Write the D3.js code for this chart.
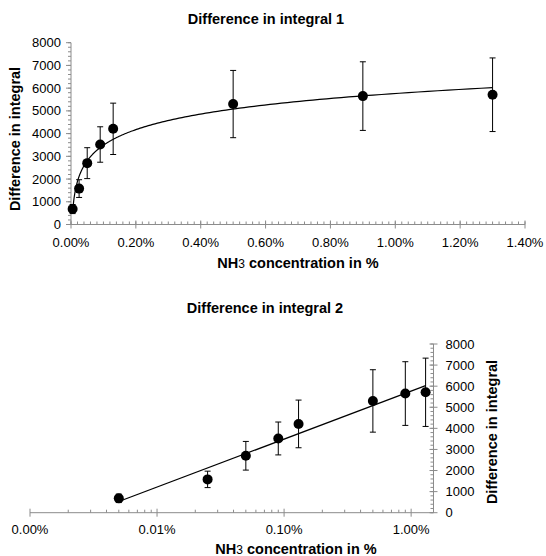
<!DOCTYPE html>
<html>
<head>
<meta charset="utf-8">
<script src="https://cdn.jsdelivr.net/npm/d3@7"></script>
<style>
  body { margin: 0; background: #fff; }
  text { font-family: "Liberation Sans", Arial, sans-serif; fill: #000; }
</style>
</head>
<body>
<div id="chart"></div>
<script>
// NH3 concentration (fraction, shown as %)
var conc = [0.00005, 0.00025, 0.0005, 0.0009, 0.0013, 0.005, 0.009, 0.013];
// difference in integral and its error
var diff = [680, 1580, 2700, 3520, 4210, 5300, 5650, 5710];
var errs = [200, 390, 680, 780, 1130, 1480, 1510, 1620];
var yTicks = [0, 1000, 2000, 3000, 4000, 5000, 6000, 7000, 8000];
var linTicks = [0, 0.002, 0.004, 0.006, 0.008, 0.010, 0.012, 0.014];
var logTicks = [0.00001, 0.0001, 0.001, 0.01];

var W = 546, H = 556;
var axisColor = "#8c8c8c";
var pct = d3.format(".2%");

var svg = d3.select("#chart").append("svg")
    .attr("width", W)
    .attr("height", H);

// soft edge on the markers
svg.append("defs").append("filter")
    .attr("id", "soft")
    .append("feGaussianBlur")
    .attr("stdDeviation", 0.7);

// logarithmic trendline y = a*ln(x) + b, least squares like the spreadsheet
var lx = conc.map(function(d) { return Math.log(d); });
var mx = d3.mean(lx), my = d3.mean(diff);
var sxy = d3.sum(lx, function(d, i) { return (d - mx) * (diff[i] - my); });
var sxx = d3.sum(lx, function(d) { return (d - mx) * (d - mx); });
var slope = sxy / sxx, icpt = my - slope * mx;
function trend(x) { return slope * Math.log(x) + icpt; }

function drawPoints(g, x, y) {
    var bars = g.selectAll(".err").data(conc).enter().append("g");
    bars.append("line")
        .attr("x1", function(d) { return x(d); })
        .attr("x2", function(d) { return x(d); })
        .attr("y1", function(d, i) { return y(diff[i] - errs[i]); })
        .attr("y2", function(d, i) { return y(diff[i] + errs[i]); })
        .attr("stroke", "#000").attr("stroke-width", 1);
    [-1, 1].forEach(function(s) {
        bars.append("line")
            .attr("x1", function(d) { return x(d) - 3; })
            .attr("x2", function(d) { return x(d) + 3; })
            .attr("y1", function(d, i) { return y(diff[i] + s * errs[i]); })
            .attr("y2", function(d, i) { return y(diff[i] + s * errs[i]); })
            .attr("stroke", "#000").attr("stroke-width", 1);
    });
    g.selectAll(".dot").data(conc).enter().append("circle")
        .attr("cx", function(d) { return x(d); })
        .attr("cy", function(d, i) { return y(diff[i]); })
        .attr("r", 5)
        .attr("fill", "#000")
        .attr("filter", "url(#soft)");
}

function drawTrend(g, x, y, xs) {
    var line = d3.line()
        .x(function(d) { return x(d); })
        .y(function(d) { return y(trend(d)); });
    g.append("path")
        .datum(xs)
        .attr("d", line)
        .attr("fill", "none")
        .attr("stroke", "#000")
        .attr("stroke-width", 1.2);
}

function xTitle(g, cx, by) {
    var t = g.append("text")
        .attr("x", cx).attr("y", by)
        .attr("text-anchor", "middle")
        .style("font-size", "14.5px")
        .style("font-weight", "bold");
    t.append("tspan").text("NH");
    t.append("tspan").text("3").style("font-weight", "normal").style("font-size", "12px");
    t.append("tspan").text(" concentration in %");
}

// ---------- chart 1: linear x ----------
var g1 = svg.append("g");
var x1 = d3.scaleLinear().domain([0, 0.014]).range([71, 525]);
var y1 = d3.scaleLinear().domain([0, 8000]).range([224.5, 42.7]);

g1.append("text")
    .attr("x", 266).attr("y", 23.5)
    .attr("text-anchor", "middle")
    .style("font-size", "14.5px").style("font-weight", "bold")
    .text("Difference in integral 1");

// y axis
g1.append("line").attr("x1", x1(0)).attr("x2", x1(0))
    .attr("y1", y1(0)).attr("y2", y1(8000)).attr("stroke", axisColor);
g1.selectAll(".ymin").data(d3.range(0, 8001, 200)).enter().append("line")
    .attr("x1", x1(0) - 3).attr("x2", x1(0))
    .attr("y1", function(d) { return y1(d); }).attr("y2", function(d) { return y1(d); })
    .attr("stroke", axisColor);
g1.selectAll(".ymaj").data(yTicks).enter().append("line")
    .attr("x1", x1(0) - 5).attr("x2", x1(0))
    .attr("y1", function(d) { return y1(d); }).attr("y2", function(d) { return y1(d); })
    .attr("stroke", axisColor);
g1.selectAll(".ylab").data(yTicks).enter().append("text")
    .attr("x", 61).attr("y", function(d) { return y1(d); })
    .attr("dy", "0.35em").attr("text-anchor", "end")
    .style("font-size", "13px")
    .text(function(d) { return d; });

// x axis
g1.append("line").attr("x1", x1(0)).attr("x2", x1(0.014))
    .attr("y1", y1(0)).attr("y2", y1(0)).attr("stroke", axisColor);
g1.selectAll(".xmin").data(d3.range(0, 71)).enter().append("line")
    .attr("x1", function(d) { return x1(d * 0.0002); })
    .attr("x2", function(d) { return x1(d * 0.0002); })
    .attr("y1", y1(0) - 3).attr("y2", y1(0))
    .attr("stroke", axisColor);
g1.selectAll(".xmaj").data(linTicks).enter().append("line")
    .attr("x1", function(d) { return x1(d); }).attr("x2", function(d) { return x1(d); })
    .attr("y1", y1(0) - 4).attr("y2", y1(0) + 4)
    .attr("stroke", axisColor);
g1.selectAll(".xlab").data(linTicks).enter().append("text")
    .attr("x", function(d) { return x1(d); }).attr("y", 246.5)
    .attr("text-anchor", "middle")
    .style("font-size", "13px")
    .text(function(d) { return pct(d); });

g1.append("text")
    .attr("transform", "translate(19.5,139) rotate(-90)")
    .attr("text-anchor", "middle")
    .style("font-size", "14.5px").style("font-weight", "bold")
    .text("Difference in integral");
xTitle(g1, 298, 268);

drawTrend(g1, x1, y1, d3.range(0, 201).map(function(i) {
    return conc[0] * Math.pow(conc[conc.length - 1] / conc[0], i / 200);
}));
drawPoints(g1, x1, y1);

// ---------- chart 2: log x ----------
var g2 = svg.append("g");
var x2 = d3.scaleLog().domain([0.00001, 0.015]).range([30, 433.5]);
var y2 = d3.scaleLinear().domain([0, 8000]).range([512.7, 344]);

g2.append("text")
    .attr("x", 265).attr("y", 312.7)
    .attr("text-anchor", "middle")
    .style("font-size", "14.5px").style("font-weight", "bold")
    .text("Difference in integral 2");

// x axis
var xr = x2.range();
g2.append("line").attr("x1", xr[0]).attr("x2", xr[1])
    .attr("y1", y2(0)).attr("y2", y2(0)).attr("stroke", axisColor);
var logMinor = [];
logTicks.forEach(function(p) {
    for (var k = 2; k <= 9; k++) if (p * k <= 0.015) logMinor.push(p * k);
});
g2.selectAll(".xmin").data(logMinor).enter().append("line")
    .attr("x1", function(d) { return x2(d); }).attr("x2", function(d) { return x2(d); })
    .attr("y1", y2(0) - 3).attr("y2", y2(0))
    .attr("stroke", axisColor);
g2.selectAll(".xmaj").data(logTicks).enter().append("line")
    .attr("x1", function(d) { return x2(d); }).attr("x2", function(d) { return x2(d); })
    .attr("y1", y2(0) - 4).attr("y2", y2(0) + 4)
    .attr("stroke", axisColor);
g2.selectAll(".xlab").data(logTicks).enter().append("text")
    .attr("x", function(d) { return x2(d); }).attr("y", 534)
    .attr("text-anchor", "middle")
    .style("font-size", "13px")
    .text(function(d) { return pct(d); });

// y axis on the right
g2.append("line").attr("x1", xr[1]).attr("x2", xr[1])
    .attr("y1", y2(0)).attr("y2", y2(8000)).attr("stroke", axisColor);
g2.selectAll(".ymin").data(d3.range(0, 8001, 200)).enter().append("line")
    .attr("x1", xr[1] - 3).attr("x2", xr[1])
    .attr("y1", function(d) { return y2(d); }).attr("y2", function(d) { return y2(d); })
    .attr("stroke", axisColor);
g2.selectAll(".ymaj").data(yTicks).enter().append("line")
    .attr("x1", xr[1] - 4).attr("x2", xr[1] + 4)
    .attr("y1", function(d) { return y2(d); }).attr("y2", function(d) { return y2(d); })
    .attr("stroke", axisColor);
g2.selectAll(".ylab").data(yTicks).enter().append("text")
    .attr("x", 445.5).attr("y", function(d) { return y2(d); })
    .attr("dy", "0.35em")
    .style("font-size", "13px")
    .text(function(d) { return d; });

g2.append("text")
    .attr("transform", "translate(497,432) rotate(-90)")
    .attr("text-anchor", "middle")
    .style("font-size", "14.5px").style("font-weight", "bold")
    .text("Difference in integral");
xTitle(g2, 296, 554);

drawTrend(g2, x2, y2, [conc[0], conc[conc.length - 1]]);
drawPoints(g2, x2, y2);
</script>
</body>
</html>
